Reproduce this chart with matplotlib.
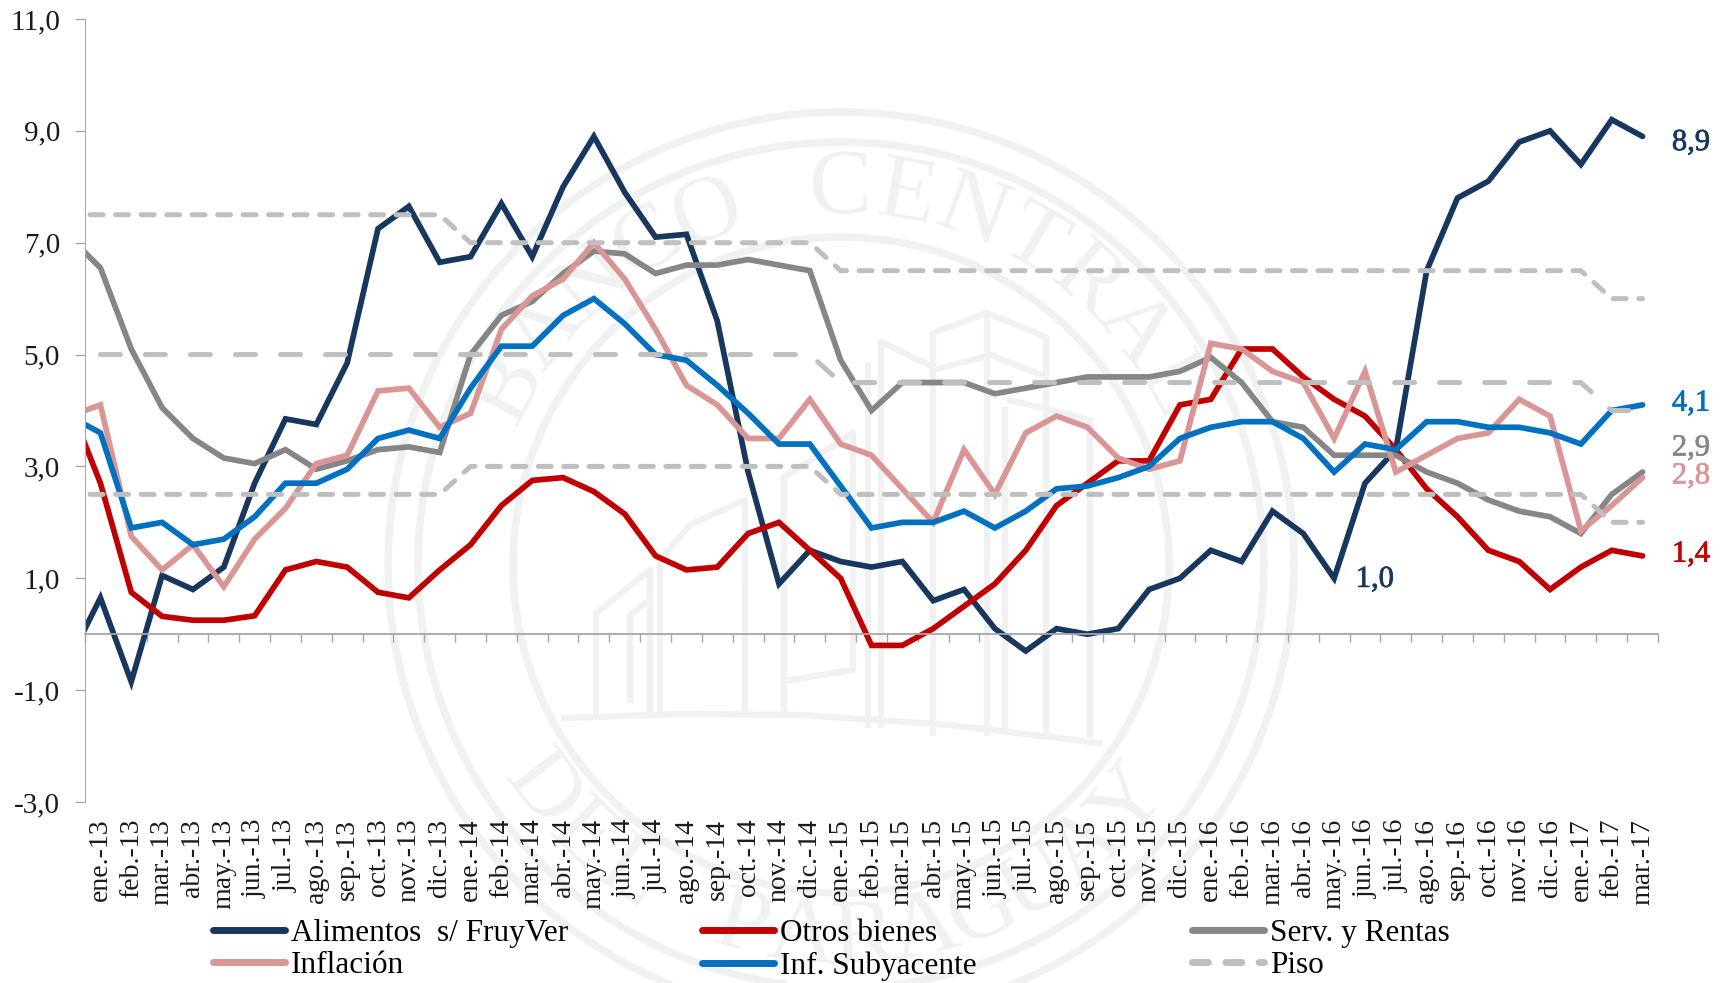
import numpy as np
import matplotlib
matplotlib.use("Agg")
import matplotlib.pyplot as plt
import matplotlib.patheffects as pe
from matplotlib.lines import Line2D
from matplotlib.ticker import FixedLocator, NullFormatter

plt.rcParams["font.family"] = ["Liberation Serif", "DejaVu Serif"]

months = ["ene.", "feb.", "mar.", "abr.", "may.", "jun.", "jul.", "ago.", "sep.", "oct.", "nov.", "dic."]
categories = [f"{m}-{y}" for y in (13, 14, 15, 16) for m in months] + ["ene.-17", "feb.-17", "mar.-17"]
yTicks = [-3, -1, 1, 3, 5, 7, 9, 11]

# first value of each series is dic.-12, cut off by the axis
alimentos = [-0.45, 0.65, -0.85, 1.05, 0.8, 1.2, 2.7, 3.85, 3.75, 4.85, 7.25, 7.65, 6.65,
             6.75, 7.7, 6.75, 8.0, 8.9, 7.9, 7.1, 7.15, 5.6, 2.9, 0.9, 1.5,
             1.3, 1.2, 1.3, 0.6, 0.8, 0.1, -0.3, 0.1, 0.0, 0.1, 0.8, 1.0,
             1.5, 1.3, 2.2, 1.8, 1.0, 2.7, 3.3, 6.5, 7.8, 8.1, 8.8, 9.0,
             8.4, 9.2, 8.9]
otros = [4.1, 2.7, 0.75, 0.32, 0.25, 0.25, 0.33, 1.15, 1.3, 1.2, 0.75, 0.65, 1.15,
         1.6, 2.3, 2.75, 2.8, 2.55, 2.15, 1.4, 1.15, 1.2, 1.8, 2.0, 1.5,
         1.0, -0.2, -0.2, 0.1, 0.5, 0.9, 1.5, 2.3, 2.7, 3.1, 3.1, 4.1,
         4.2, 5.1, 5.1, 4.6, 4.2, 3.9, 3.3, 2.6, 2.1, 1.5, 1.3, 0.8,
         1.2, 1.5, 1.4]
servicios = [7.1, 6.55, 5.1, 4.05, 3.5, 3.15, 3.05, 3.3, 2.95, 3.1, 3.3, 3.35, 3.25,
             5.0, 5.7, 5.95, 6.45, 6.85, 6.8, 6.45, 6.6, 6.6, 6.7, 6.6, 6.5,
             4.9, 4.0, 4.5, 4.5, 4.5, 4.3, 4.4, 4.5, 4.6, 4.6, 4.6, 4.7,
             4.95, 4.5, 3.8, 3.7, 3.2, 3.2, 3.2, 2.9, 2.7, 2.4, 2.2, 2.1,
             1.8, 2.5, 2.9]
inflacion = [3.9, 4.1, 1.75, 1.15, 1.6, 0.85, 1.7, 2.25, 3.05, 3.2, 4.35, 4.4, 3.7,
             3.95, 5.45, 6.05, 6.35, 7.0, 6.35, 5.45, 4.45, 4.1, 3.5, 3.5, 4.2,
             3.4, 3.2, 2.6, 2.0, 3.3, 2.5, 3.6, 3.9, 3.7, 3.15, 2.95, 3.1,
             5.2, 5.1, 4.7, 4.5, 3.5, 4.7, 2.9, 3.2, 3.5, 3.6, 4.2, 3.9,
             1.85, 2.3, 2.8]
subyacente = [3.9, 3.6, 1.9, 2.0, 1.6, 1.7, 2.1, 2.7, 2.7, 2.95, 3.5, 3.65, 3.5,
              4.4, 5.15, 5.15, 5.7, 6.0, 5.55, 5.0, 4.9, 4.45, 3.95, 3.4, 3.4,
              2.65, 1.9, 2.0, 2.0, 2.2, 1.9, 2.2, 2.6, 2.65, 2.8, 3.0, 3.5,
              3.7, 3.8, 3.8, 3.5, 2.9, 3.4, 3.3, 3.8, 3.8, 3.7, 3.7, 3.6,
              3.4, 4.0, 4.1]
techo = [7.5, 7.5, 7.5, 7.5, 7.5, 7.5, 7.5, 7.5, 7.5, 7.5, 7.5, 7.5, 7.5,
         7.0, 7.0, 7.0, 7.0, 7.0, 7.0, 7.0, 7.0, 7.0, 7.0, 7.0, 7.0,
         6.5, 6.5, 6.5, 6.5, 6.5, 6.5, 6.5, 6.5, 6.5, 6.5, 6.5, 6.5,
         6.5, 6.5, 6.5, 6.5, 6.5, 6.5, 6.5, 6.5, 6.5, 6.5, 6.5, 6.5,
         6.5, 6.0, 6.0]
meta = [5.0, 5.0, 5.0, 5.0, 5.0, 5.0, 5.0, 5.0, 5.0, 5.0, 5.0, 5.0,
        5.0, 5.0, 5.0, 5.0, 5.0, 5.0, 5.0, 5.0, 5.0, 5.0, 5.0, 5.0,
        4.5, 4.5, 4.5, 4.5, 4.5, 4.5, 4.5, 4.5, 4.5, 4.5, 4.5, 4.5,
        4.5, 4.5, 4.5, 4.5, 4.5, 4.5, 4.5, 4.5, 4.5, 4.5, 4.5, 4.5,
        4.5, 4.0, 4.0]
piso = [2.5, 2.5, 2.5, 2.5, 2.5, 2.5, 2.5, 2.5, 2.5, 2.5, 2.5, 2.5, 2.5,
        3.0, 3.0, 3.0, 3.0, 3.0, 3.0, 3.0, 3.0, 3.0, 3.0, 3.0, 3.0,
        2.5, 2.5, 2.5, 2.5, 2.5, 2.5, 2.5, 2.5, 2.5, 2.5, 2.5, 2.5,
        2.5, 2.5, 2.5, 2.5, 2.5, 2.5, 2.5, 2.5, 2.5, 2.5, 2.5, 2.5,
        2.5, 2.0, 2.0]

navy = "#17375E"
red = "#C00000"
grey = "#868686"
pink = "#D99694"
blue = "#0070C0"
dashGrey = "#BFBFBF"
sealColor = "#F0F2F2"

W, H = 1731, 983
fig = plt.figure(figsize=(W / 100, H / 100), dpi=100)

# watermark seal, drawn in pixel coordinates behind the chart
bg = fig.add_axes([0, 0, 1, 1], zorder=0)
bg.set_xlim(0, W)
bg.set_ylim(H, 0)
bg.axis("off")
cx, cy = 841, 565
t = np.linspace(0, 2 * np.pi, 400)
for r in (453, 423, 328):
    bg.plot(cx + r * np.cos(t), cy + r * np.sin(t), color=sealColor, lw=5.5)


def sealText(text, startDeg, stepDeg, top=True):
    for i, ch in enumerate(text):
        a = np.radians(startDeg + i * stepDeg)
        if top:
            x, y, rot = cx + 375 * np.sin(a), cy - 375 * np.cos(a), -np.degrees(a)
        else:
            x, y, rot = cx + 375 * np.sin(a), cy + 375 * np.cos(a), np.degrees(a)
        bg.text(x, y, ch, color=sealColor, fontsize=68, ha="center", va="center",
                rotation=rot, rotation_mode="anchor")


sealText("BANCO CENTRAL", -62, 10.3)
sealText("DEL PARAGUAY", -53, 9.4, top=False)

buildings = [
    [(933, 733), (933, 333), (987, 313), (1046, 337), (1046, 733)],
    [(933, 370), (991, 355), (1046, 377)],
    [(987, 313), (987, 733)],
    [(881, 725), (881, 342), (929, 365)],
    [(868, 725), (868, 365)],
    [(596, 715), (596, 613), (650, 570), (650, 715)],
    [(630, 700), (630, 615), (650, 600)],
    [(660, 715), (660, 560), (690, 525), (700, 520), (745, 500), (745, 715)],
    [(784, 715), (784, 477), (853, 433), (853, 670), (790, 680)],
    [(1005, 410), (1005, 730)],
    [(1010, 400), (1090, 420), (1090, 735)],
    [(564, 718), (680, 714), (802, 715), (950, 725), (1100, 743)],
]
for b in buildings:
    xs, ys = zip(*b)
    bg.plot(xs, ys, color=sealColor, lw=4.5)

left, right, top, bottom = 85, 1658, 19, 802
ax = fig.add_axes([left / W, 1 - bottom / H, (right - left) / W, (bottom - top) / H], zorder=1)
ax.patch.set_alpha(0)

xAll = np.arange(-1, len(categories))
xMeta = np.arange(len(categories))

solid = dict(lw=4.1, solid_capstyle="round", solid_joinstyle="miter")
ax.plot(xAll, alimentos, color=navy, **solid)
ax.plot(xAll, otros, color=red, **solid)
ax.plot(xAll, servicios, color=grey, **solid)
ax.plot(xAll, inflacion, color=pink, **solid)
ax.plot(xAll, subyacente, color=blue, **solid)
ax.plot(xAll, techo, color=dashGrey, lw=3.6, dash_capstyle="round", linestyle=(1.0, (2.6, 2.5)))
ax.plot(xMeta, meta, color=dashGrey, lw=3.6, dash_capstyle="round", linestyle=(0, (4.0, 5.0)))
ax.plot(xAll, piso, color=dashGrey, lw=3.6, dash_capstyle="round", linestyle=(1.0, (2.6, 2.5)))

ax.set_xlim(-0.5, len(categories) - 0.5)
ax.set_ylim(-3, 11)

for s in ("top", "right"):
    ax.spines[s].set_visible(False)
ax.spines["left"].set_color("#A6A6A6")
ax.spines["bottom"].set_color("#A6A6A6")
ax.spines["bottom"].set_linewidth(1.3)
ax.spines["bottom"].set_position(("data", 0))

ax.set_yticks(yTicks)
ax.set_yticklabels([f"{v},0" for v in yTicks])
ax.tick_params(axis="y", length=7, width=0.9, color="#A6A6A6", labelsize=21, pad=11, labelcolor="#1a1a1a")

ax.xaxis.set_major_locator(FixedLocator(np.arange(-0.5, len(categories))))
ax.xaxis.set_major_formatter(NullFormatter())
ax.tick_params(axis="x", length=6, width=1.0, color="#A6A6A6")

catAxis = ax.secondary_xaxis(0.0)
catAxis.set_xticks(np.arange(len(categories)))
catAxis.set_xticklabels(categories, rotation=90, fontsize=20, color="#1a1a1a")
catAxis.tick_params(length=0, pad=12)
catAxis.spines["bottom"].set_visible(False)

endLabels = [(50.95, 8.79, "8,9", navy), (50.95, 4.13, "4,1", blue), (50.95, 3.33, "2,9", grey),
             (50.95, 2.83, "2,8", pink), (50.95, 1.43, "1,4", red), (40.7, 0.98, "1,0", navy)]
for lx, ly, txt, col in endLabels:
    lab = ax.text(lx, ly, txt, color=col, fontsize=22, va="center", clip_on=False)
    lab.set_path_effects([pe.withStroke(linewidth=0.5, foreground=col)])

legendCols = [
    (213, [("Alimentos  s/ FruyVer", navy, "-"), ("Inflación", pink, "-")]),
    (702, [("Otros bienes", red, "-"), ("Inf. Subyacente", blue, "-")]),
    (1192, [("Serv. y Rentas", grey, "-"), ("Piso", dashGrey, (0, (2.3, 2.5)))]),
]
for legX, entries in legendCols:
    handles = [Line2D([], [], color=c, lw=5, linestyle=ls, solid_capstyle="round",
                      dash_capstyle="round") for _, c, ls in entries]
    labels = [e[0] for e in entries]
    leg = fig.legend(handles, labels, loc="upper left", bbox_to_anchor=(legX / W, 1 - 919 / H),
                     frameon=False, fontsize=22.5, handlelength=2.3, handletextpad=0.2,
                     labelspacing=0.1, borderpad=0, borderaxespad=0)
    leg.set_zorder(2)

fig.savefig("out.png", dpi=100)
